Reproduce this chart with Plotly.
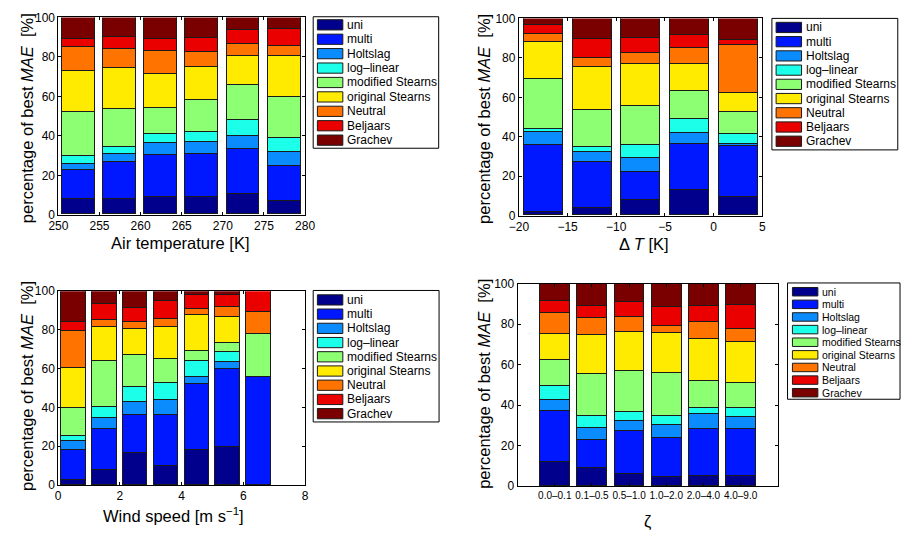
import plotly.graph_objects as go

W, H = 911, 540

models = ["uni", "multi", "Holtslag", "log\u2013linear", "modified Stearns",
          "original Stearns", "Neutral", "Beljaars", "Grachev"]
colors = ["#00008C", "#0018FF", "#0A8CFF", "#1CFFE8", "#8CFF73",
          "#FFEB00", "#FF7300", "#EB0000", "#7A0000"]

# Panel 1: air temperature bins (centres, K)
temp_centers = [252.5, 257.5, 262.5, 267.5, 272.5, 277.5]
temp_vals = [
    [7.7, 7.9, 9.0, 8.6, 10.4, 6.6],        # uni
    [15.0, 18.7, 20.9, 22.2, 22.8, 17.7],   # multi
    [3.0, 4.0, 6.1, 5.7, 6.6, 7.1],         # Holtslag
    [4.1, 3.4, 4.6, 5.3, 7.9, 7.4],         # log-linear
    [22.0, 19.3, 13.2, 16.3, 17.6, 20.9],   # modified Stearns
    [20.7, 20.7, 17.3, 16.4, 14.8, 20.6],   # original Stearns
    [12.4, 9.6, 11.5, 7.7, 6.2, 5.1],       # Neutral
    [3.9, 6.2, 6.5, 7.4, 7.3, 8.5],         # Beljaars
    [11.2, 10.2, 10.9, 10.4, 6.4, 6.1],     # Grachev
]

# Panel 2: Delta T bins (centres, K)
dt_centers = [-17.5, -12.5, -7.5, -2.5, 2.5]
dt_vals = [
    [1.8, 3.6, 7.9, 12.7, 9.2],
    [33.6, 23.2, 14.0, 23.3, 25.7],
    [7.0, 5.4, 7.4, 5.6, 1.1],
    [1.5, 2.2, 6.1, 7.1, 5.1],
    [25.0, 19.1, 20.0, 14.3, 11.2],
    [18.8, 21.7, 21.1, 13.8, 9.7],
    [4.4, 4.7, 5.9, 8.2, 24.2],
    [4.6, 9.4, 7.7, 6.3, 2.8],
    [3.3, 10.7, 9.9, 8.7, 11.0],
]

# Panel 3: wind speed bins (centres, m/s)
ws_centers = [0.5, 1.5, 2.5, 3.5, 4.5, 5.5, 6.5]
ws_vals = [
    [2.7, 7.7, 16.2, 9.7, 17.9, 19.3, 0.0],
    [15.1, 21.3, 19.6, 26.1, 34.0, 40.3, 55.6],
    [5.0, 5.3, 7.1, 8.1, 3.7, 3.9, 0.0],
    [2.2, 5.7, 7.5, 8.7, 8.4, 4.8, 0.0],
    [14.5, 24.0, 16.8, 12.4, 5.0, 5.1, 22.1],
    [20.8, 17.2, 13.4, 16.4, 18.6, 13.4, 0.0],
    [19.1, 3.9, 3.3, 4.4, 2.9, 4.8, 11.4],
    [4.7, 8.4, 7.2, 9.3, 7.3, 6.2, 10.9],
    [15.9, 6.5, 8.9, 4.9, 2.2, 2.2, 0.0],
]

# Panel 4: zeta classes
zeta_labels = ["0.0\u20130.1", "0.1\u20130.5", "0.5\u20131.0",
               "1.0\u20132.0", "2.0\u20134.0", "4.0\u20139.0"]
zeta_vals = [
    [12.2, 9.1, 5.9, 4.7, 5.0, 5.1],
    [25.0, 13.8, 21.2, 19.4, 23.1, 23.2],
    [5.7, 5.7, 5.3, 6.2, 7.7, 6.0],
    [6.9, 6.1, 4.4, 4.4, 2.7, 4.2],
    [12.5, 20.8, 20.2, 21.2, 13.7, 12.4],
    [13.0, 19.5, 19.2, 19.9, 20.8, 20.2],
    [10.4, 8.3, 7.6, 3.2, 8.4, 6.6],
    [6.0, 5.9, 7.2, 9.4, 7.7, 11.9],
    [8.3, 10.8, 9.0, 11.6, 10.9, 10.4],
]

FONT = "Liberation Sans, Arial, Helvetica, sans-serif"

def px(x):
    return x / W

def py(y):
    return 1 - y / H

fig = go.Figure()

panels = [
    ("x", "y", temp_centers, temp_vals, 4.0),
    ("x2", "y2", dt_centers, dt_vals, 4.0),
    ("x3", "y3", ws_centers, ws_vals, 0.8),
    ("x4", "y4", zeta_labels, zeta_vals, 0.8),
]
for xa, ya, xs, vals, wd in panels:
    for i, name in enumerate(models):
        fig.add_trace(go.Bar(
            x=xs, y=vals[i], name=name, width=wd,
            marker=dict(color=colors[i], line=dict(color="#1a1a1a", width=1)),
            xaxis=xa, yaxis=ya, showlegend=False, hoverinfo="x+y+name"))

axis_common = dict(showline=True, linecolor="black", linewidth=1, mirror="ticks",
                   ticks="inside", ticklen=3, tickwidth=1, tickcolor="black",
                   showgrid=False, zeroline=False,
                   tickfont=dict(family=FONT, size=12, color="black"))

# domains (pixel-measured)
dom = {
    1: ((49.5, 301.7), (10.7, 213.3)),
    2: ((520.3, 769.3), (11.7, 214.3)),
    3: ((49.3, 301.7), (291.7, 490.7)),
    4: ((519.0, 785.0), (284.0, 491.7)),
}

def xd(k):
    return [px(dom[k][0][0]), px(dom[k][0][1])]

def yd(k):
    return [py(dom[k][1][1]), py(dom[k][1][0])]

yaxis_common = dict(axis_common, range=[0, 100], tickvals=[0, 20, 40, 60, 80, 100])

fig.update_layout(
    width=W, height=H,
    margin=dict(l=0, r=0, t=0, b=0),
    paper_bgcolor="white", plot_bgcolor="white",
    barmode="stack", bargap=0,
    font=dict(family=FONT, color="black"),
    xaxis=dict(axis_common, domain=xd(1), range=[250, 280],
               tickvals=[250, 255, 260, 265, 270, 275, 280], anchor="y"),
    yaxis=dict(yaxis_common, domain=yd(1), anchor="x"),
    xaxis2=dict(axis_common, domain=xd(2), range=[-20, 5],
                tickvals=[-20, -15, -10, -5, 0, 5], anchor="y2"),
    yaxis2=dict(yaxis_common, domain=yd(2), anchor="x2"),
    xaxis3=dict(axis_common, domain=xd(3), range=[0, 8],
                tickvals=[0, 2, 4, 6, 8], anchor="y3"),
    yaxis3=dict(yaxis_common, domain=yd(3), anchor="x3"),
    xaxis4=dict(axis_common, domain=xd(4), range=[-1, 6], type="category",
                tickfont=dict(family=FONT, size=10, color="black"), anchor="y4"),
    yaxis4=dict(yaxis_common, domain=yd(4), anchor="x4"),
)

annotations = []
shapes = []

TSIZE = 16.5
ytitle = "percentage of best <i>MAE</i>\u00a0 [%]"
for (xc, yc) in [(17.5, 114), (484.5, 115), (17.5, 389), (484.5, 387)]:
    annotations.append(dict(text=ytitle, x=px(xc), y=py(yc), xref="paper", yref="paper",
                            xanchor="center", yanchor="middle", textangle=-90,
                            showarrow=False, font=dict(family=FONT, size=TSIZE, color="black")))

xtitles = [
    ("Air temperature [K]", 174, 242),
    ("\u0394 <i>T</i> [K]", 648, 243),
    ("Wind speed [m s<sup>\u22121</sup>]", 167, 522),
    ("\u03b6", 652, 528),
]
for t, xc, yc in xtitles:
    annotations.append(dict(text=t, x=px(xc), y=py(yc), xref="paper", yref="paper",
                            xanchor="center", yanchor="middle", showarrow=False,
                            font=dict(family=FONT, size=TSIZE, color="black")))

# legends: box, swatch x-range, text x, first row centre, row spacing, swatch h, font
legends = [
    ((310, 10, 438.3, 145), (314.3, 340.3), 342.3, 18.3, 14.8, 10.5, 12),
    ((779, 11.7, 907.7, 146.7), (783.3, 809.3), 811.7, 21.0, 14.6, 10.5, 12),
    ((310, 291, 438.7, 426), (314.3, 340.3), 342.3, 300.7, 14.6, 10.5, 12),
    ((795, 283.3, 910, 402.7), (800, 826), 828.3, 292.3, 12.96, 8.7, 10.5),
]
for box, (sx0, sx1), tx, r0, dy, sh, fs in legends:
    shapes.append(dict(type="rect", xref="paper", yref="paper",
                       x0=px(box[0]), x1=px(box[2]), y0=py(box[3]), y1=py(box[1]),
                       line=dict(color="black", width=1), fillcolor="white", layer="below"))
    for i, name in enumerate(models):
        yc = r0 + i * dy
        shapes.append(dict(type="rect", xref="paper", yref="paper",
                           x0=px(sx0), x1=px(sx1), y0=py(yc + sh / 2), y1=py(yc - sh / 2),
                           line=dict(color="#1a1a1a", width=1), fillcolor=colors[i]))
        annotations.append(dict(text=name, x=px(tx), y=py(yc), xref="paper", yref="paper",
                                xanchor="left", yanchor="middle", showarrow=False,
                                font=dict(family=FONT, size=fs, color="black")))

fig.update_layout(annotations=annotations, shapes=shapes)

fig.write_html("out.html")
